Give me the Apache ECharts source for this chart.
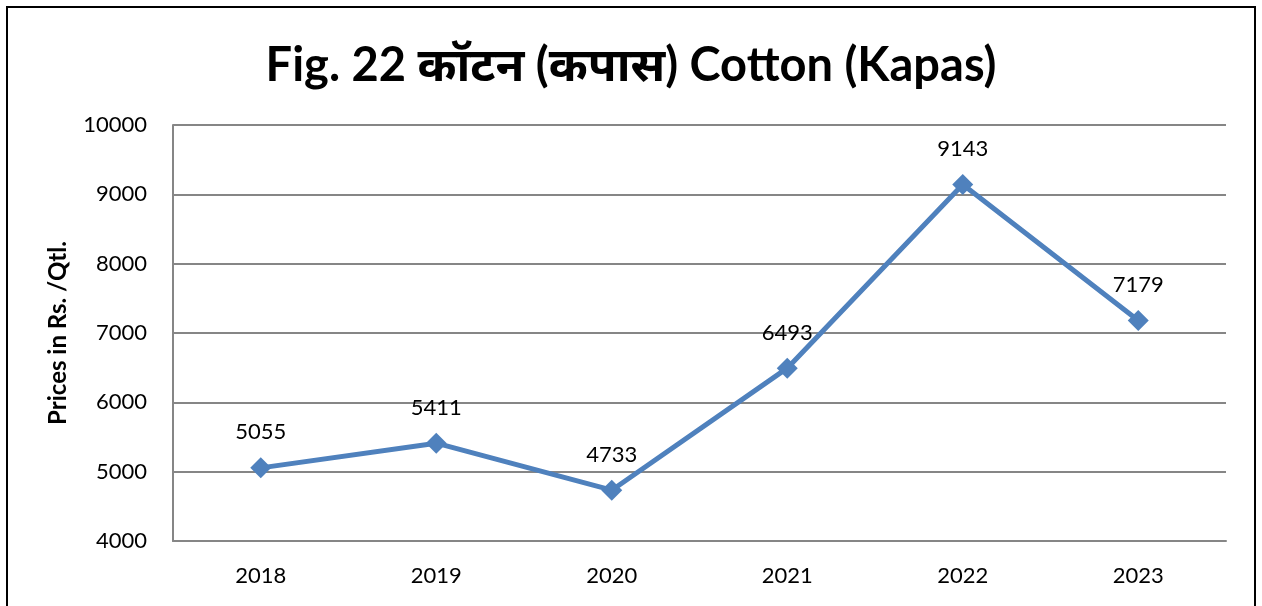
<!DOCTYPE html>
<html>
<head>
<meta charset="utf-8">
<script src="https://cdn.jsdelivr.net/npm/echarts@6/dist/echarts.min.js"></script>
<style>
html,body{margin:0;padding:0;background:#fff;}
#frame{position:absolute;left:6px;top:6px;width:1250px;height:640px;border:2px solid #000;box-sizing:border-box;}
#chart{position:absolute;left:0;top:0;width:1262px;height:606px;}
</style>
</head>
<body>
<div id="frame"></div>
<div id="chart"></div>
<script>
const categories = ['2018','2019','2020','2021','2022','2023'];
const prices = [5055, 5411, 4733, 6493, 9143, 7179];
const titleText = 'Fig. 22 कॉटन (कपास) Cotton (Kapas)';
const yAxisName = 'Prices in Rs. /Qtl.';

const chart = echarts.init(document.getElementById('chart'), null, {renderer:'canvas'});
chart.setOption({
  animation:false,
  backgroundColor:'transparent',
  title:{
    text:titleText,
    left:'center',
    top:37,
    textStyle:{fontFamily:'Lato, "Noto Sans", sans-serif',fontWeight:'bold',fontSize:47,color:'#000'}
  },
  grid:{left:173,right:36,top:125,bottom:65,containLabel:false},
  xAxis:{
    type:'category',
    data:categories,
    boundaryGap:true,
    axisLine:{lineStyle:{color:'#868686',width:2}},
    axisTick:{show:false},
    axisLabel:{margin:24,fontFamily:'Lato, sans-serif',fontSize:22,color:'#000'}
  },
  yAxis:{
    type:'value',
    min:4000,max:10000,interval:1000,
    name:yAxisName,
    nameLocation:'middle',
    nameGap:103,
    nameTextStyle:{fontFamily:'Lato, sans-serif',fontWeight:'bold',fontSize:24,color:'#000'},
    axisLine:{show:true,lineStyle:{color:'#868686',width:2}},
    axisTick:{show:false},
    axisLabel:{margin:26,fontFamily:'Lato, sans-serif',fontSize:22,color:'#000',formatter:function(v){return String(v);}},
    splitLine:{lineStyle:{color:'#868686',width:2}}
  },
  series:[{
    type:'line',
    data:prices,
    symbol:'diamond',
    symbolSize:21,
    lineStyle:{color:'#4F81BD',width:5},
    itemStyle:{color:'#4F81BD'},
    label:{show:true,position:'top',distance:14,fontFamily:'Lato, sans-serif',fontSize:22,color:'#000'}
  }]
});
</script>
</body>
</html>
